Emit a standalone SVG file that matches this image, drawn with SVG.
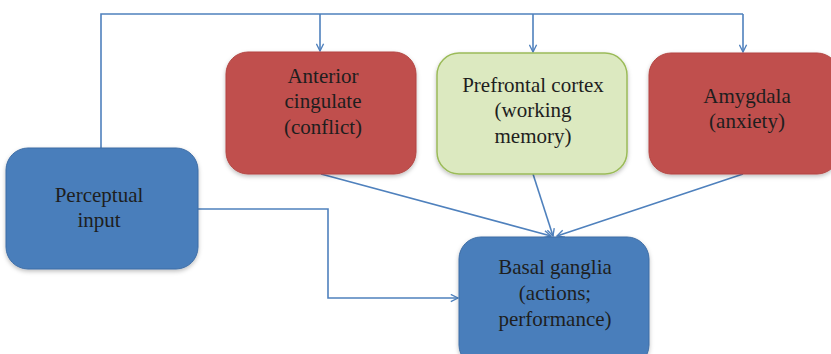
<svg xmlns="http://www.w3.org/2000/svg" width="831" height="354" viewBox="0 0 831 354">
<defs>
<marker id="arr" viewBox="0 0 10 10" refX="9" refY="5" markerWidth="9" markerHeight="9" markerUnits="userSpaceOnUse" orient="auto">
<polyline points="1,1 9,5 1,9" fill="none" stroke="#4F81BD" stroke-width="1.5"/>
</marker>
<filter id="sh" x="-10%" y="-10%" width="120%" height="125%">
<feDropShadow dx="0" dy="2" stdDeviation="2" flood-color="#000" flood-opacity="0.25"/>
</filter>
</defs>
<style>
.red{fill:#C0504D;stroke:#B34542;stroke-width:1}
.green{fill:#DCE9C0;stroke:#9BBB59;stroke-width:1.5}
.blue{fill:#4A7EBB;stroke:#3D6DA5;stroke-width:1}
.box{filter:url(#sh)}
text{font-family:"Liberation Serif","Times New Roman",serif;font-size:21px;fill:#1E1E1E;text-anchor:middle}
.c{fill:none;stroke:#4F81BD;stroke-width:1.6}
</style>
<rect width="831" height="354" fill="#fff"/>
<g id="connectors">
<polyline class="c" points="101,148 101,14 743,14"/>
<line class="c" x1="320" y1="14" x2="320" y2="51" marker-end="url(#arr)"/>
<line class="c" x1="533" y1="14" x2="533" y2="52" marker-end="url(#arr)"/>
<line class="c" x1="743" y1="14" x2="743" y2="52" marker-end="url(#arr)"/>
<polyline class="c" points="198,209 328,209 328,298 458,298" marker-end="url(#arr)"/>
<line class="c" x1="321" y1="174" x2="551" y2="236" marker-end="url(#arr)"/>
<line class="c" x1="533" y1="174" x2="553" y2="236" marker-end="url(#arr)"/>
<line class="c" x1="743" y1="174" x2="557" y2="236" marker-end="url(#arr)"/>
</g>
<g id="anterior-cingulate">
<rect class="red box" x="226" y="52" width="190" height="122" rx="22"/>
<text x="323" y="83">Anterior</text>
<text x="323" y="108">cingulate</text>
<text x="323" y="134">(conflict)</text>
</g>
<g id="prefrontal-cortex">
<rect class="green box" x="437" y="53" width="190" height="121" rx="22"/>
<text x="533" y="92">Prefrontal cortex</text>
<text x="533" y="117">(working</text>
<text x="533" y="143">memory)</text>
</g>
<g id="amygdala">
<rect class="red box" x="649" y="53" width="190" height="121" rx="22"/>
<text x="747" y="103">Amygdala</text>
<text x="747" y="128">(anxiety)</text>
</g>
<g id="perceptual-input">
<rect class="blue box" x="6" y="148" width="192" height="121" rx="22"/>
<text x="99" y="202">Perceptual</text>
<text x="99" y="227">input</text>
</g>
<g id="basal-ganglia">
<rect class="blue box" x="459" y="237" width="190" height="130" rx="22"/>
<text x="555" y="274">Basal ganglia</text>
<text x="555" y="300">(actions;</text>
<text x="555" y="326">performance)</text>
</g>
</svg>
